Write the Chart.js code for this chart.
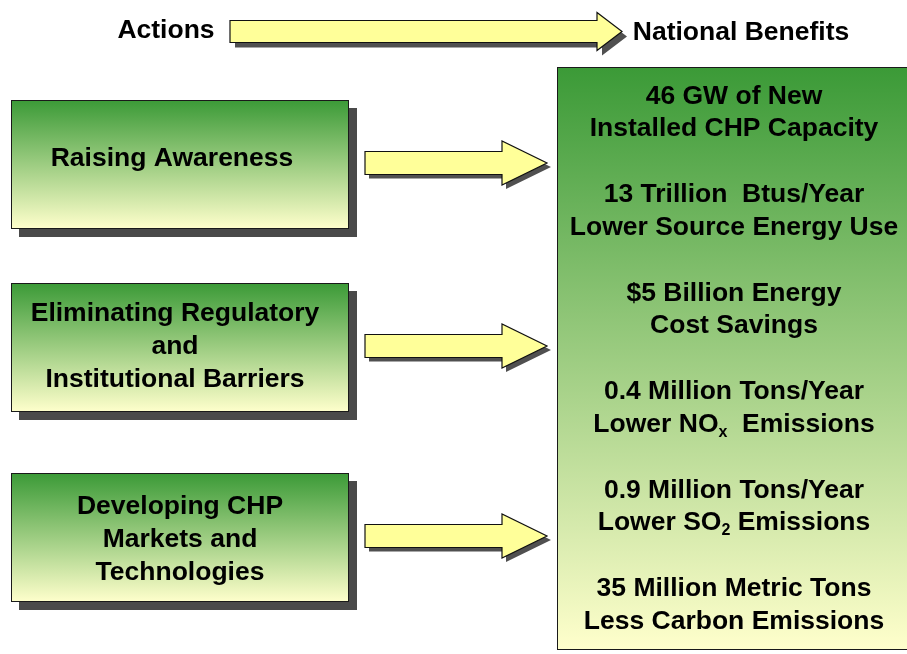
<!DOCTYPE html>
<html>
<head>
<meta charset="utf-8">
<script src="https://cdn.jsdelivr.net/npm/chart.js@4/dist/chart.umd.min.js"></script>
<style>
  html, body { margin: 0; padding: 0; background: #fff; }
  #wrap { width: 907px; height: 654px; }
</style>
</head>
<body>
<div id="wrap"><canvas id="diagram"></canvas></div>
<script>
// texts of the diagram ("~x~" marks a subscript)
const headerLabels = ["Actions", "National Benefits"];
const actions = [
    ["Raising Awareness"],
    ["Eliminating Regulatory", "and", "Institutional Barriers"],
    ["Developing CHP", "Markets and", "Technologies"]
];
const benefits = [
    ["46 GW of New", "Installed CHP Capacity"],
    ["13 Trillion  Btus/Year", "Lower Source Energy Use"],
    ["$5 Billion Energy", "Cost Savings"],
    ["0.4 Million Tons/Year", "Lower NO~x~  Emissions"],
    ["0.9 Million Tons/Year", "Lower SO~2~ Emissions"],
    ["35 Million Metric Tons", "Less Carbon Emissions"]
];

const FONT = '"Liberation Sans", Arial, sans-serif';
const SIZE = 26.5;
const GREEN = "#3b9a37";
const PALE = "#ffffcc";

function parts(line) {
    return line.split("~").map((t, i) => ({ text: t, sub: i % 2 === 1 }));
}

function drawLine(ctx, line, cx, cy, size) {
    const segs = parts(line);
    let total = 0;
    segs.forEach(s => {
        ctx.font = `bold ${s.sub ? Math.round(size * 0.62) : size}px ${FONT}`;
        s.w = ctx.measureText(s.text).width;
        total += s.w;
    });
    let x = cx - total / 2;
    ctx.fillStyle = "#000";
    ctx.textBaseline = "middle";
    ctx.textAlign = "left";
    segs.forEach(s => {
        ctx.font = `bold ${s.sub ? Math.round(size * 0.62) : size}px ${FONT}`;
        ctx.fillText(s.text, x, s.sub ? cy + size * 0.3 : cy);
        x += s.w;
    });
}

function gradientBox(ctx, x0, y0, x1, y1, shadow) {
    if (shadow) {
        ctx.fillStyle = "#4a4a4a";
        ctx.fillRect(x0 + shadow, y0 + shadow, x1 - x0, y1 - y0);
    }
    const g = ctx.createLinearGradient(0, y0, 0, y1);
    g.addColorStop(0, GREEN);
    g.addColorStop(1, PALE);
    ctx.fillStyle = g;
    ctx.fillRect(x0, y0, x1 - x0, y1 - y0);
    ctx.strokeStyle = "#1a1a1a";
    ctx.lineWidth = 1;
    ctx.strokeRect(x0 + 0.5, y0 + 0.5, x1 - x0 - 1, y1 - y0 - 1);
}

function arrowPath(ctx, x0, xHead, xTip, cy, bodyHalf, headHalf) {
    ctx.beginPath();
    ctx.moveTo(x0, cy - bodyHalf);
    ctx.lineTo(xHead, cy - bodyHalf);
    ctx.lineTo(xHead, cy - headHalf);
    ctx.lineTo(xTip, cy);
    ctx.lineTo(xHead, cy + headHalf);
    ctx.lineTo(xHead, cy + bodyHalf);
    ctx.lineTo(x0, cy + bodyHalf);
    ctx.closePath();
}

function drawArrow(ctx, x0, xHead, xTip, cy, bodyHalf, headHalf, off) {
    ctx.save();
    ctx.translate(off, off);
    arrowPath(ctx, x0, xHead, xTip, cy, bodyHalf, headHalf);
    ctx.fillStyle = "#505050";
    ctx.fill();
    ctx.restore();
    arrowPath(ctx, x0, xHead, xTip, cy, bodyHalf, headHalf);
    ctx.fillStyle = "#ffff99";
    ctx.fill();
    ctx.strokeStyle = "#111";
    ctx.lineWidth = 1.2;
    ctx.stroke();
}

const diagramPlugin = {
    id: "diagram",
    afterDraw(chart) {
        const ctx = chart.ctx;
        const sx = chart.scales.x, sy = chart.scales.y;
        const X = v => sx.getPixelForValue(v);
        const Y = v => sy.getPixelForValue(v);
        ctx.save();

        // header
        drawArrow(ctx, X(230), X(597), X(622), Y(31.5), 11, 19, 5);
        drawLine(ctx, headerLabels[0], X(166), Y(31), SIZE);
        drawLine(ctx, headerLabels[1], X(741), Y(33), SIZE);

        // action boxes + arrows
        const tops = [100, 283, 473];
        const centers = [172, 175, 180];
        const shifts = [-6, -1, 2];
        const h = 129;
        actions.forEach((lines, i) => {
            const top = tops[i];
            gradientBox(ctx, X(11), Y(top), X(349), Y(top + h), 8);
            const mid = top + h / 2;
            lines.forEach((l, j) => {
                drawLine(ctx, l, X(centers[i]), Y(mid + shifts[i] + (j - (lines.length - 1) / 2) * 33), SIZE);
            });
            drawArrow(ctx, X(365), X(502), X(547), Y(mid - 1.5), 11.5, 22, 4);
        });

        // benefits box
        gradientBox(ctx, X(557), Y(67), X(912), Y(650), 0);
        benefits.forEach((lines, i) => {
            const base = 96.5 + i * 98.5;
            lines.forEach((l, j) => drawLine(ctx, l, X(734), Y(base + j * 32.5), SIZE));
        });

        ctx.restore();
    }
};

new Chart(document.getElementById("diagram"), {
    type: "scatter",
    data: { datasets: [{ data: [] }] },
    options: {
        responsive: true,
        maintainAspectRatio: false,
        animation: false,
        layout: { padding: 0 },
        plugins: { legend: { display: false }, tooltip: { enabled: false } },
        scales: {
            x: { type: "linear", min: 0, max: 907, display: false },
            y: { type: "linear", min: 0, max: 654, reverse: true, display: false }
        }
    },
    plugins: [diagramPlugin]
});
</script>
</body>
</html>
